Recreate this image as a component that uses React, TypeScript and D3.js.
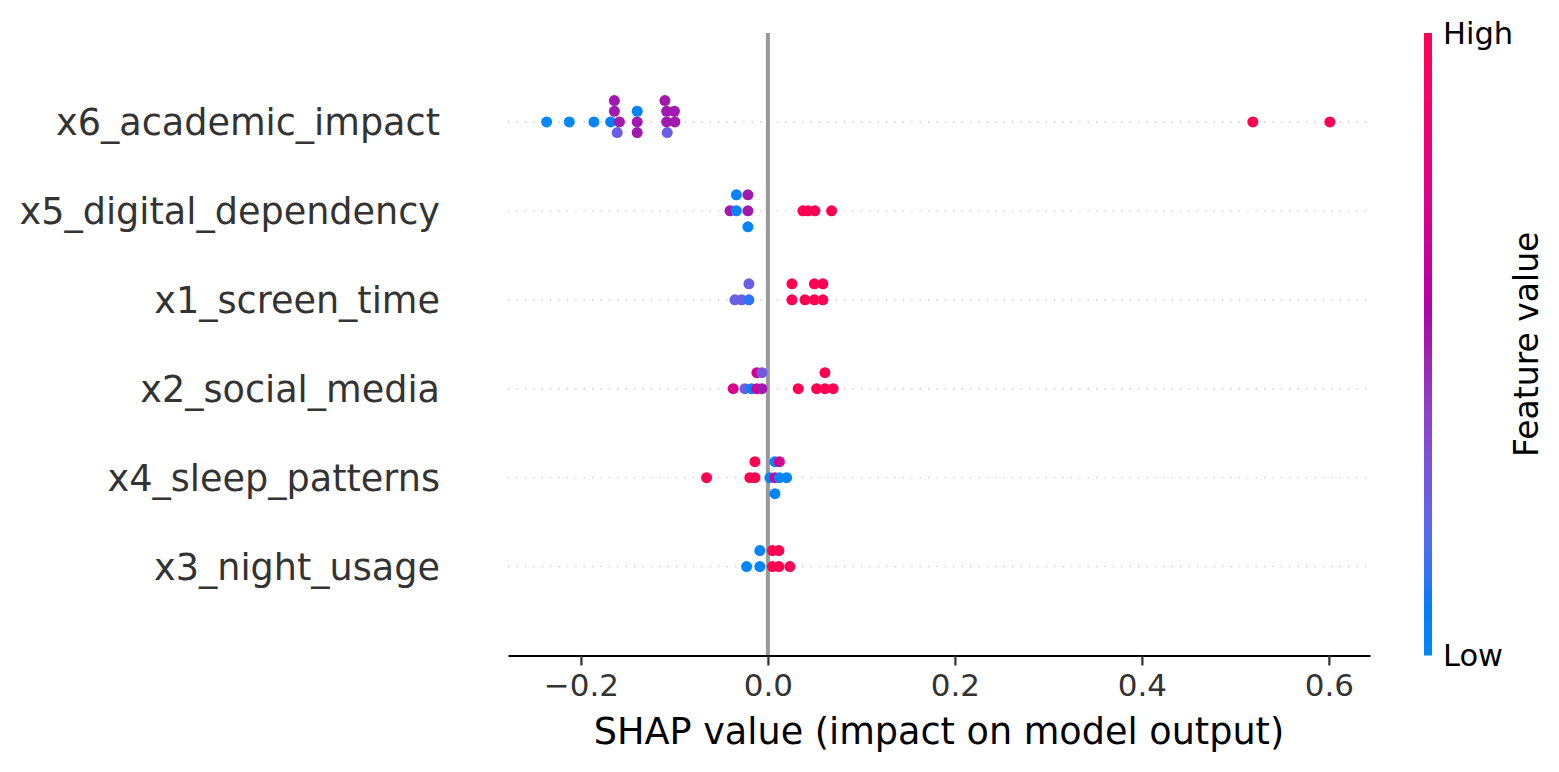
import React, { useEffect, useRef } from "react";
import * as d3 from "d3";

// features, top to bottom
const featureNames = [
  "x6_academic_impact",
  "x5_digital_dependency",
  "x1_screen_time",
  "x2_social_media",
  "x4_sleep_patterns",
  "x3_night_usage",
];

// SHAP values and normalized feature values (0 = low, 1 = high)
const shapX6 = [-0.2367, -0.2125, -0.1861, -0.1682, -0.1588, -0.1642, -0.1612, -0.1642, -0.1398, -0.1398, -0.1398, -0.1083, -0.1083, -0.1077, -0.1102, -0.0995, -0.1, 0.5187, 0.6011];
const featX6 = [0, 0, 0.02, 0.05, 0.5, 0.5, 0.25, 0.5, 0.5, 0.03, 0.5, 0.5, 0.5, 0.25, 0.5, 0.5, 0.5, 1, 1];

const shapX5 = [-0.0406, -0.0337, -0.0337, -0.0214, -0.0214, -0.0214, 0.0374, 0.0428, 0.0503, 0.0681];
const featX5 = [0.5, 0.02, 0.02, 0.5, 0.5, 0.03, 1, 1, 1, 1];

const shapX1 = [-0.0353, -0.0281, -0.0203, -0.0203, 0.0257, 0.0257, 0.0396, 0.0497, 0.0497, 0.0588, 0.0588];
const featX1 = [0.25, 0.25, 0.12, 0.25, 1, 1, 1, 1, 1, 1, 1];

const shapX2 = [-0.0371, -0.0246, -0.0174, -0.0118, -0.0118, -0.0064, -0.0064, 0.0324, 0.0521, 0.061, 0.061, 0.0698];
const featX2 = [0.72, 0.25, 0.03, 0.7, 0.7, 0.5, 0.28, 1, 1, 1, 1, 1];

const shapX4 = [-0.0656, -0.0193, -0.0139, -0.0139, 0.0021, 0.0075, 0.0075, 0.0075, 0.0123, 0.0123, 0.02];
const featX4 = [1, 1, 1, 1, 0.02, 0.72, 0.02, 0.02, 0.02, 0.7, 0.02];

const shapX3 = [-0.0228, -0.0086, -0.0086, 0.0048, 0.0048, 0.0118, 0.0118, 0.0235];
const featX3 = [0, 0.02, 0.02, 1, 1, 1, 1, 1];

const shapRows = [shapX6, shapX5, shapX1, shapX2, shapX4, shapX3];
const featRows = [featX6, featX5, featX1, featX2, featX4, featX3];

const xTicks = [-0.2, 0, 0.2, 0.4, 0.6];
const xLabel = "SHAP value (impact on model output)";
const colorLabels = ["Low", "High"];
const colorBarLabel = "Feature value";

const FONT = "DejaVu Sans";

// shap's red_blue map: lch from blue to red, lightness dipping to 40 in the middle
function redBlue(t: number) {
  const l = t < 0.5 ? 54 + (40 - 54) * (t / 0.5) : 40 + (54 - 40) * ((t - 0.5) / 0.5);
  const c = 70 + (90 - 70) * t;
  const hRad = 4.6588 + (0.35470565 + 2 * Math.PI - 4.6588) * t;
  return d3.hcl((hRad * 180) / Math.PI, c, l).formatHex();
}

// beeswarm layering like shap: quantize into bins, stack alternating above/below
function swarmLevels(vals: number[]) {
  const nbins = 100;
  const lo = d3.min(vals) as number;
  const hi = d3.max(vals) as number;
  const quant = vals.map((v) => Math.round((nbins * (v - lo)) / (hi - lo + 1e-8)));
  const inds = d3.range(vals.length).sort((a, b) => quant[a] - quant[b] || a - b);
  const ys = new Array(vals.length).fill(0);
  let layer = 0;
  let last = -1;
  for (const ind of inds) {
    if (quant[ind] !== last) layer = 0;
    ys[ind] = Math.ceil(layer / 2) * ((layer % 2) * 2 - 1);
    layer += 1;
    last = quant[ind];
  }
  return ys;
}

export default function App() {
  const svgRef = useRef<SVGSVGElement>(null);

  useEffect(() => {
    const W = 1559;
    const H = 772;
    const svg = d3.select(svgRef.current);
    svg.selectAll("*").remove();
    svg.attr("width", W).attr("height", H);

    const n = featureNames.length;
    const x = d3.scaleLinear().domain([-0.278, 0.644]).range([508, 1370]);
    const y = d3.scaleLinear().domain([-1, n]).range([655.5, 33]);
    const rowHeight = 0.4;

    const g = svg.append("g");

    // dotted row guides
    featureNames.forEach((_, i) => {
      const pos = n - 1 - i;
      g.append("line")
        .attr("x1", x.range()[0])
        .attr("x2", x.range()[1])
        .attr("y1", y(pos))
        .attr("y2", y(pos))
        .attr("stroke", "#cccccc")
        .attr("stroke-width", 1.4)
        .attr("stroke-dasharray", "1.4,7");
    });

    // zero line
    g.append("line")
      .attr("x1", x(0))
      .attr("x2", x(0))
      .attr("y1", y(n))
      .attr("y2", y(-1))
      .attr("stroke", "#999999")
      .attr("stroke-width", 4);

    // dots
    featureNames.forEach((name, i) => {
      const pos = n - 1 - i;
      const vals = shapRows[i];
      const fv = featRows[i];
      const ys = swarmLevels(vals);
      const scale = (0.9 * rowHeight) / ((d3.max(ys) as number) + 1);
      g.selectAll(`.dot-${i}`)
        .data(vals)
        .enter()
        .append("circle")
        .attr("class", `dot-${i}`)
        .attr("cx", (d) => x(d))
        .attr("cy", (d, j) => y(pos + ys[j] * scale))
        .attr("r", 5.5)
        .attr("fill", (d, j) => redBlue(fv[j]));

      g.append("text")
        .attr("x", 440)
        .attr("y", y(pos))
        .attr("dy", "0.36em")
        .attr("text-anchor", "end")
        .attr("font-family", FONT)
        .attr("font-size", 36.6)
        .attr("fill", "#333333")
        .text(name);
    });

    // x axis
    const axisY = y(-1);
    const xAxis = svg
      .append("g")
      .attr("transform", `translate(0,${axisY})`)
      .call(
        d3
          .axisBottom(x)
          .tickValues(xTicks)
          .tickFormat(d3.format(".1f"))
          .tickSize(10)
          .tickPadding(8)
          .tickSizeOuter(0)
      );
    xAxis.select(".domain").attr("stroke", "#000").attr("stroke-width", 2.2);
    xAxis.selectAll(".tick line").attr("stroke", "#333333").attr("stroke-width", 2.2);
    xAxis
      .selectAll(".tick text")
      .attr("font-family", FONT)
      .attr("font-size", 31)
      .attr("fill", "#333333");

    svg
      .append("text")
      .attr("x", (x.range()[0] + x.range()[1]) / 2)
      .attr("y", 744)
      .attr("text-anchor", "middle")
      .attr("font-family", FONT)
      .attr("font-size", 36.6)
      .attr("fill", "#000")
      .text(xLabel);

    // colour bar
    const defs = svg.append("defs");
    const grad = defs
      .append("linearGradient")
      .attr("id", "cbar")
      .attr("x1", "0")
      .attr("y1", "1")
      .attr("x2", "0")
      .attr("y2", "0");
    d3.range(0, 1.0001, 0.025).forEach((t) => {
      grad.append("stop").attr("offset", t).attr("stop-color", redBlue(t));
    });
    const cbTop = y(n);
    const cbBottom = y(-1);
    svg
      .append("rect")
      .attr("x", 1424)
      .attr("y", cbTop)
      .attr("width", 8)
      .attr("height", cbBottom - cbTop)
      .attr("fill", "url(#cbar)");

    [cbBottom, cbTop].forEach((yy, k) => {
      svg
        .append("text")
        .attr("x", 1443)
        .attr("y", yy)
        .attr("dy", "0.36em")
        .attr("font-family", FONT)
        .attr("font-size", 30.5)
        .attr("fill", "#000")
        .text(colorLabels[k]);
    });

    svg
      .append("text")
      .attr("transform", `translate(1538,${(cbTop + cbBottom) / 2}) rotate(-90)`)
      .attr("text-anchor", "middle")
      .attr("font-family", FONT)
      .attr("font-size", 33)
      .attr("fill", "#000")
      .text(colorBarLabel);
  }, []);

  return (
    <svg
      ref={svgRef}
      style={{ position: "absolute", left: 0, top: 0, background: "#fff" }}
    ></svg>
  );
}
